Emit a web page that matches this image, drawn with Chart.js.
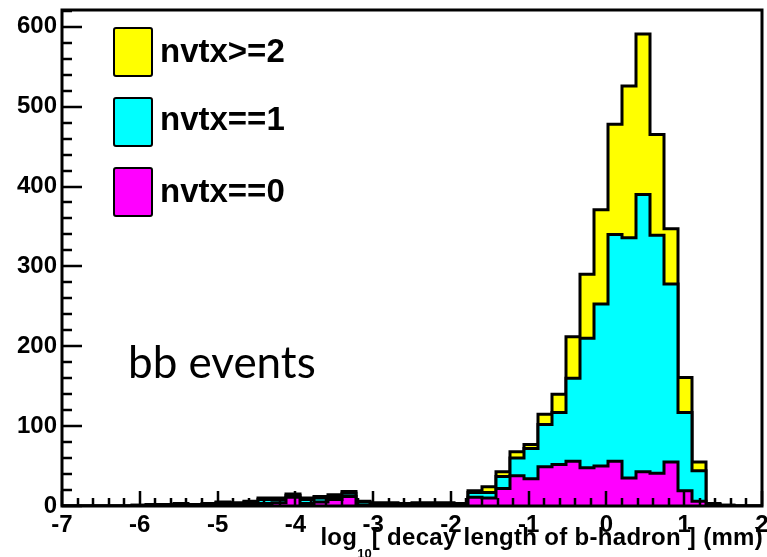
<!DOCTYPE html>
<html>
<head>
<meta charset="utf-8">
<script src="https://cdn.jsdelivr.net/npm/chart.js@4.4.1/dist/chart.umd.min.js"></script>
<style>
body { margin: 0; background: #fff; }
#wrap { position: relative; width: 767px; height: 557px; overflow: hidden; }
#myChart { position: absolute; left: 0; top: 0; }
.lbox { position: absolute; left: 113px; width: 36px; height: 46px; border: 2px solid #000; border-radius: 3px; }
.ltxt { position: absolute; left: 160px; font: bold 33px "Liberation Sans", Arial, sans-serif; line-height: 33px; color: #000; white-space: nowrap; }
#note { position: absolute; left: 128px; top: 339px; font: 44px Lato, sans-serif; line-height: 44px; color: #000; white-space: nowrap; }
#xtitle { position: absolute; right: 4px; top: 525px; font: bold 24px "Liberation Sans", Arial, sans-serif; letter-spacing: 0.3px; line-height: 24px; color: #000; white-space: nowrap; }
#xtitle sub { font-size: 13px; line-height: 0; vertical-align: -13px; letter-spacing: 0; }
</style>
</head>
<body>
<div id="wrap">
  <canvas id="myChart" width="767" height="557"></canvas>
  <div class="lbox" style="top:27px; background:#ffff00;"></div>
  <div class="ltxt" style="top:34px;">nvtx&gt;=2</div>
  <div class="lbox" style="top:97px; background:#00ffff;"></div>
  <div class="ltxt" style="top:102px;">nvtx==1</div>
  <div class="lbox" style="top:167px; background:#ff00ff;"></div>
  <div class="ltxt" style="top:174px;">nvtx==0</div>
  <div id="note">bb events</div>
  <div id="xtitle">log<sub>10</sub>[ decay length of b-hadron ] (mm)</div>
</div>
<script>
// histogram binning: 50 bins between -7 and 2
var nBins = 50;
var xLow = -7;
var xHigh = 2;
var yMax = 621;

// tick labels
var xTicks = [-7, -6, -5, -4, -3, -2, -1, 0, 1, 2];
var yTicks = [0, 100, 200, 300, 400, 500, 600];

// entries per bin, one array per stack layer
var nvtx0 = [0, 0, 0, 0, 0, 0, 0, 1, 1, 1,
             1, 2, 1, 3, 3, 4, 11, 3, 5, 8,
             12, 1, 1, 1, 0, 1, 1, 1, 2, 11,
             10, 22, 38, 34, 49, 52, 56, 48, 50, 56,
             35, 43, 41, 55, 19, 6, 1, 0, 0, 0];
var nvtx1 = [0, 0, 0, 0, 0, 1, 1, 1, 1, 1,
             1, 2, 2, 2, 5, 4, 2, 5, 5, 4,
             4, 4, 2, 2, 2, 2, 2, 2, 1, 6,
             7, 15, 22, 38, 53, 65, 104, 162, 203, 284,
             301, 347, 298, 223, 98, 38, 1, 1, 0, 0];
var nvtx2 = [0, 0, 0, 0, 0, 0, 1, 0, 1, 0,
             1, 1, 1, 1, 2, 2, 2, 2, 2, 2,
             2, 1, 1, 1, 1, 1, 1, 1, 0, 2,
             7, 6, 8, 5, 13, 23, 52, 80, 118, 138,
             190, 201, 126, 69, 44, 11, 1, 0, 0, 0];

// points at bin low edges, plus the upper edge to close the last bin
function histPoints(counts) {
    var w = (xHigh - xLow) / nBins;
    var pts = [];
    for (var k = 0; k < nBins; k++) {
        pts.push({x: xLow + k * w, y: counts[k]});
    }
    pts.push({x: xHigh, y: 0});
    return pts;
}

function layer(label, counts, color) {
    return {
        label: label,
        data: histPoints(counts),
        stepped: true,
        fill: 'origin',
        backgroundColor: color,
        borderColor: "#000",
        borderWidth: 3,
        borderJoinStyle: 'miter',
        pointRadius: 0,
        tension: 0
    };
}

// ROOT style frame with inward ticks
var rootFrame = {
    id: 'rootFrame',
    afterDatasetsDraw: function(chart) {
        var ctx = chart.ctx;
        var a = chart.chartArea;
        var xs = chart.scales.x;
        var ys = chart.scales.y;
        ctx.save();
        ctx.strokeStyle = "#000";
        ctx.lineWidth = 2.5;
        ctx.beginPath();
        for (var v = 0; v <= yMax; v += 20) {
            var py = Math.round(ys.getPixelForValue(v));
            var len = (v % 100 === 0) ? 20 : 10;
            ctx.moveTo(a.left, py);
            ctx.lineTo(a.left + len, py);
        }
        for (var i = 0; i <= 45; i++) {
            var px = Math.round(xs.getPixelForValue(xLow + i * 0.2));
            var tl = (i % 5 === 0) ? 15 : 8;
            ctx.moveTo(px, a.bottom);
            ctx.lineTo(px, a.bottom - tl);
        }
        ctx.stroke();
        ctx.lineWidth = 3;
        ctx.strokeRect(a.left, a.top, a.right - a.left, a.bottom - a.top);
        ctx.restore();
    }
};

Chart.defaults.color = "#000";
var context = document.getElementById("myChart").getContext("2d");
var myChart = new Chart(context, {
    type: 'line',
    data: {
        datasets: [
            layer("nvtx==0", nvtx0, "#ff00ff"),
            layer("nvtx==1", nvtx1, "#00ffff"),
            layer("nvtx>=2", nvtx2, "#ffff00")
        ]
    },
    options: {
        responsive: false,
        animation: false,
        layout: { padding: { top: 10, right: 5, left: 0, bottom: 0 } },
        plugins: {
            legend: { display: false },
            tooltip: { enabled: false }
        },
        scales: {
            x: {
                type: 'linear',
                min: xLow,
                max: xHigh,
                grid: { display: false, drawTicks: false },
                border: { display: false },
                afterBuildTicks: function(scale) {
                    scale.ticks = xTicks.map(function(v) { return {value: v}; });
                },
                afterFit: function(scale) {
                    scale.height = 51;
                    scale.paddingLeft = 0;
                    scale.paddingRight = 0;
                },
                ticks: {
                    padding: 5,
                    maxRotation: 0,
                    autoSkip: false,
                    font: { family: "'Liberation Sans', Arial, sans-serif", size: 24, weight: 'bold' }
                }
            },
            y: {
                stacked: true,
                min: 0,
                max: yMax,
                grid: { display: false, drawTicks: false },
                border: { display: false },
                afterBuildTicks: function(scale) {
                    scale.ticks = yTicks.map(function(v) { return {value: v}; });
                },
                afterFit: function(scale) {
                    scale.width = 62;
                    scale.paddingTop = 0;
                    scale.paddingBottom = 0;
                },
                ticks: {
                    padding: 5,
                    font: { family: "'Liberation Sans', Arial, sans-serif", size: 24, weight: 'bold' }
                }
            }
        }
    },
    plugins: [rootFrame]
});
</script>
</body>
</html>
